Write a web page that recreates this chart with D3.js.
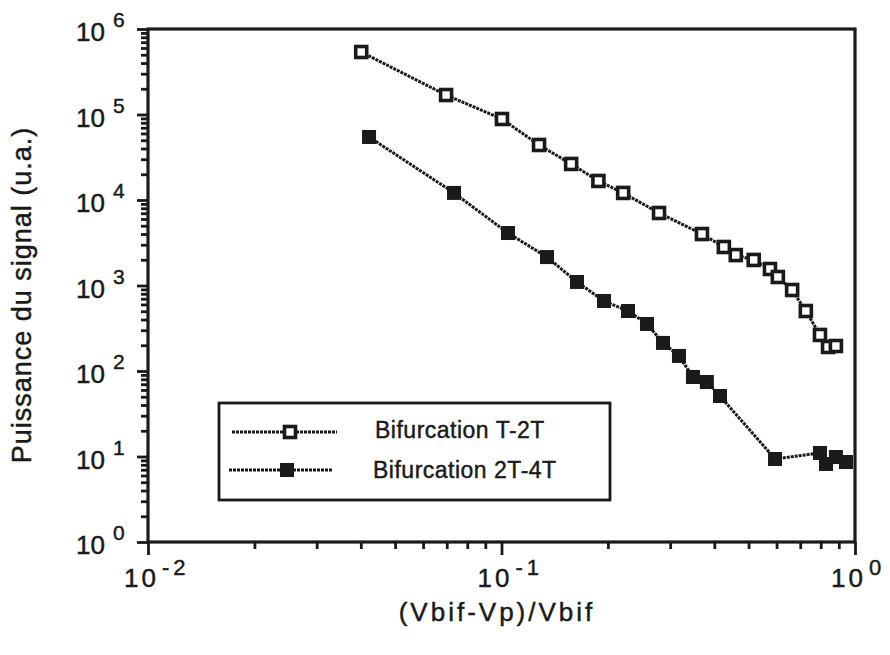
<!DOCTYPE html>
<html>
<head>
<meta charset="utf-8">
<script src="https://cdn.jsdelivr.net/npm/d3@7"></script>
<style>
  html, body { margin: 0; padding: 0; background: #fff; }
  svg text { font-family: "Liberation Sans", Arial, Helvetica, sans-serif; fill: #1a1a1a; stroke: #1a1a1a; stroke-width: 0.45px; }
</style>
</head>
<body>
<svg id="chart" width="890" height="655"></svg>
<script>
// ---- Data ----
const seriesNames = ["Bifurcation T-2T", "Bifurcation 2T-4T"];

const t2x = [0.0401, 0.0697, 0.1003, 0.1277, 0.1574, 0.1880, 0.2209, 0.2790, 0.3690, 0.4256, 0.4600, 0.5170, 0.5747, 0.6050, 0.6640, 0.7260, 0.7960, 0.8390, 0.8830];
const t2y = [5.38e5, 1.69e5, 8.86e4, 4.40e4, 2.64e4, 1.67e4, 1.21e4, 7.05e3, 4.00e3, 2.82e3, 2.27e3, 1.99e3, 1.56e3, 1.257e3, 886, 503, 264, 191, 196];

const t4x = [0.0422, 0.0734, 0.1043, 0.1345, 0.1635, 0.1950, 0.2280, 0.2580, 0.2863, 0.3177, 0.3480, 0.3810, 0.4150, 0.5940, 0.7960, 0.8280, 0.8830, 0.9430];
const t4y = [5.46e4, 1.21e4, 4.11e3, 2.15e3, 1.10e3, 659, 503, 355, 213, 150, 85.1, 74.4, 51.0, 9.35, 11.0, 8.18, 9.87, 8.62];

const xMajorExp = [-2, -1, 0];
const yMajorExp = [0, 1, 2, 3, 4, 5, 6];
const xLabel = "(Vbif-Vp)/Vbif";
const yLabel = "Puissance du signal (u.a.)";

// ---- Layout ----
const L = 148, R = 855, T = 29, B = 542;
const ink = "#1a1a1a";
const svg = d3.select("#chart");

const x = d3.scaleLog().domain([0.01, 1]).range([L, R]);
const y = d3.scaleLog().domain([1, 1e6]).range([B, T]);

// minor tick values
const xMinor = [];
for (let e = -2; e < 0; e++) for (let m = 2; m <= 9; m++) xMinor.push(m * Math.pow(10, e));
const yMinor = [];
for (let e = 0; e < 6; e++) for (let m = 2; m <= 9; m++) yMinor.push(m * Math.pow(10, e));

// ---- Axes ticks ----
const gx = svg.append("g").attr("transform", `translate(0,${B})`);
gx.call(d3.axisBottom(x).tickValues(xMinor).tickSize(7).tickFormat(""));
gx.select(".domain").remove();
const gx2 = svg.append("g").attr("transform", `translate(0,${B})`);
gx2.call(d3.axisBottom(x).tickValues(xMajorExp.map(e => Math.pow(10, e))).tickSize(13).tickFormat(""));
gx2.select(".domain").remove();

const gy = svg.append("g").attr("transform", `translate(${L},0)`);
gy.call(d3.axisLeft(y).tickValues(yMinor).tickSize(7).tickFormat(""));
gy.select(".domain").remove();
const gy2 = svg.append("g").attr("transform", `translate(${L},0)`);
gy2.call(d3.axisLeft(y).tickValues(yMajorExp.map(e => Math.pow(10, e))).tickSize(11).tickFormat(""));
gy2.select(".domain").remove();

svg.selectAll(".tick line").attr("stroke", ink).attr("stroke-width", 2.8);

// frame
svg.append("rect").attr("x", L).attr("y", T).attr("width", R - L).attr("height", B - T)
  .attr("fill", "none").attr("stroke", ink).attr("stroke-width", 3.2);

// ---- Tick labels ----
yMajorExp.forEach(e => {
  const py = y(Math.pow(10, e));
  svg.append("text").attr("x", 105).attr("y", py + 12).attr("text-anchor", "end")
    .attr("font-size", 26).text("10");
  svg.append("text").attr("x", 113).attr("y", py - 2)
    .attr("font-size", 21).text(String(e));
});

xMajorExp.forEach(e => {
  const px = x(Math.pow(10, e));
  const t = svg.append("text").attr("x", px - 24).attr("y", 587).attr("font-size", 26)
    .attr("letter-spacing", 3);
  t.append("tspan").text("10");
  t.append("tspan").attr("dx", 3).attr("dy", -12).attr("font-size", 22)
    .attr("letter-spacing", e < 0 ? 4 : 0).text(e < 0 ? "-" + Math.abs(e) : String(e));
});

// ---- Axis titles ----
svg.append("text").attr("x", 497).attr("y", 621).attr("text-anchor", "middle")
  .attr("font-size", 26).attr("letter-spacing", 3).text(xLabel);
svg.append("text").attr("transform", "translate(31,295) rotate(-90)").attr("text-anchor", "middle")
  .attr("font-size", 27).attr("letter-spacing", 1).text(yLabel);

// ---- Series ----
const line = d3.line().x(d => x(d[0])).y(d => y(d[1]));
const d2 = t2x.map((v, i) => [v, t2y[i]]);
const d4 = t4x.map((v, i) => [v, t4y[i]]);

const plot = svg.append("g");
[d2, d4].forEach(d => {
  plot.append("path").datum(d).attr("d", line).attr("fill", "none")
    .attr("stroke", ink).attr("stroke-width", 3).attr("stroke-dasharray", "3,1");
});

plot.selectAll("rect.open").data(d2).join("rect").attr("class", "open")
  .attr("x", d => x(d[0]) - 5.5).attr("y", d => y(d[1]) - 5.5).attr("width", 11).attr("height", 11)
  .attr("fill", "#fff").attr("stroke", ink).attr("stroke-width", 3.6);

plot.selectAll("rect.fill").data(d4).join("rect").attr("class", "fill")
  .attr("x", d => x(d[0]) - 7).attr("y", d => y(d[1]) - 7).attr("width", 14).attr("height", 14)
  .attr("fill", ink);

// ---- Legend ----
const lg = svg.append("g");
lg.append("rect").attr("x", 219).attr("y", 403).attr("width", 391).attr("height", 97)
  .attr("fill", "#fff").attr("stroke", ink).attr("stroke-width", 2.8);
const legendRows = [
  { x1: 232, x2: 337, mx: 290, y: 432, tx: 375, ty: 438, open: true },
  { x1: 229, x2: 333, mx: 287, y: 470, tx: 373, ty: 478, open: false }
];
legendRows.forEach((r, i) => {
  lg.append("line").attr("x1", r.x1).attr("x2", r.x2).attr("y1", r.y).attr("y2", r.y)
    .attr("stroke", ink).attr("stroke-width", 3).attr("stroke-dasharray", "3,1");
  if (r.open) {
    lg.append("rect").attr("x", r.mx - 5.5).attr("y", r.y - 5.5).attr("width", 11).attr("height", 11)
      .attr("fill", "#fff").attr("stroke", ink).attr("stroke-width", 3.6);
  } else {
    lg.append("rect").attr("x", r.mx - 7).attr("y", r.y - 7).attr("width", 14).attr("height", 14)
      .attr("fill", ink);
  }
  lg.append("text").attr("x", r.tx).attr("y", r.ty).attr("font-size", 23)
    .attr("letter-spacing", 0.5).text(seriesNames[i]);
});
</script>
</body>
</html>
